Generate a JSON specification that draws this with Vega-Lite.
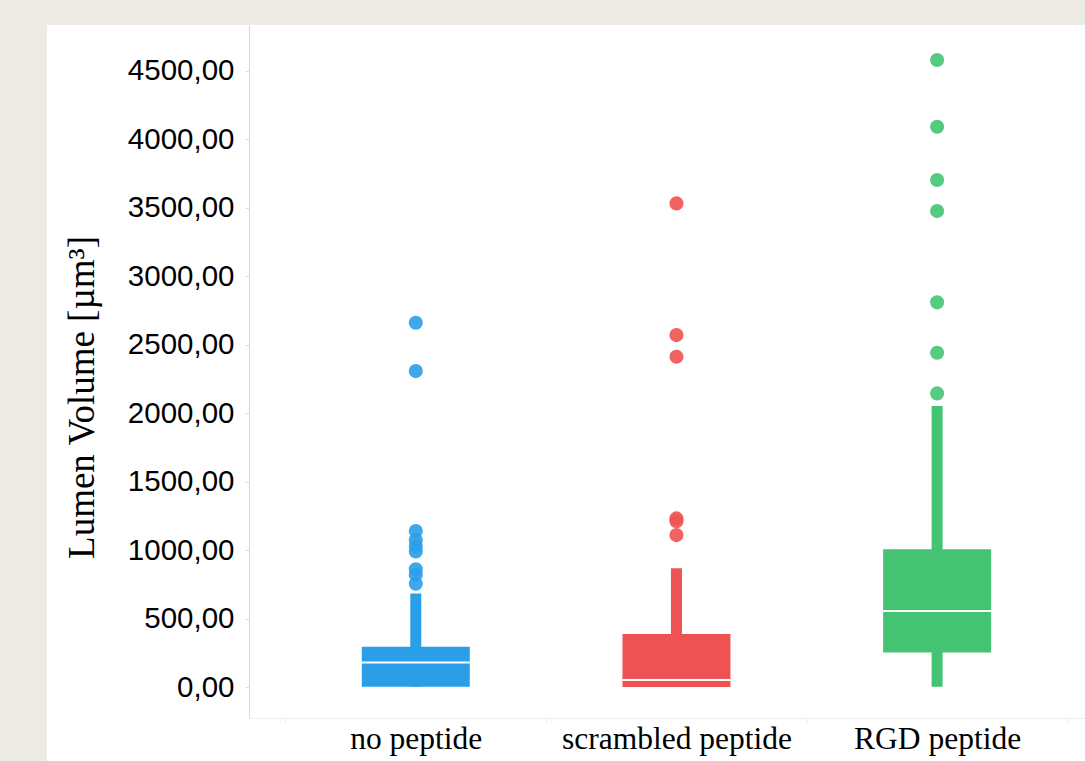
{
  "$schema": "https://vega.github.io/schema/vega-lite/v6.json",
  "width": 836,
  "height": 693,
  "autosize": {"type": "none"},
  "padding": {"left": 249, "top": 25, "right": 0, "bottom": 43},
  "background": "#EEEBE4",
  "config": {
    "view": {"fill": "white", "stroke": "white", "strokeWidth": 404, "strokeDash": [0, 836, 2222, 10]},
    "axis": {"grid": false}
  },
  "datasets": {
    "boxes": [
      {"group": "no peptide", "lower": 2, "q1": 2, "median": 180, "q3": 294, "upper": 684},
      {"group": "scrambled peptide", "lower": 0, "q1": 0, "median": 51, "q3": 387, "upper": 867},
      {"group": "RGD peptide", "lower": 2, "q1": 253, "median": 555, "q3": 1006, "upper": 2053}
    ],
    "outliers": [
      {"group": "no peptide", "value": 2661},
      {"group": "no peptide", "value": 2308},
      {"group": "no peptide", "value": 1140},
      {"group": "no peptide", "value": 1075},
      {"group": "no peptide", "value": 1030},
      {"group": "no peptide", "value": 990},
      {"group": "no peptide", "value": 860},
      {"group": "no peptide", "value": 820},
      {"group": "no peptide", "value": 755},
      {"group": "scrambled peptide", "value": 3533},
      {"group": "scrambled peptide", "value": 2571},
      {"group": "scrambled peptide", "value": 2413},
      {"group": "scrambled peptide", "value": 1232},
      {"group": "scrambled peptide", "value": 1212},
      {"group": "scrambled peptide", "value": 1110},
      {"group": "RGD peptide", "value": 4580},
      {"group": "RGD peptide", "value": 4093},
      {"group": "RGD peptide", "value": 3704},
      {"group": "RGD peptide", "value": 3477},
      {"group": "RGD peptide", "value": 2810},
      {"group": "RGD peptide", "value": 2442},
      {"group": "RGD peptide", "value": 2145}
    ]
  },
  "encoding": {
    "x": {
      "field": "group",
      "type": "nominal",
      "sort": ["no peptide", "scrambled peptide", "RGD peptide"],
      "scale": {"type": "band", "paddingInner": 0, "paddingOuter": 0.1036, "align": 0.675},
      "axis": {
        "title": null,
        "labelAngle": 0,
        "labelFont": "Liberation Serif",
        "labelFontSize": 31.5,
        "labelColor": "#000000",
        "labelBaseline": "alphabetic",
        "labelPadding": 26,
        "labelLimit": 0,
        "tickBand": "extent",
        "tickSize": 4,
        "tickColor": "#ececec",
        "domainColor": "#eeeeee",
        "domainWidth": 1
      }
    },
    "color": {
      "field": "group",
      "type": "nominal",
      "scale": {"domain": ["no peptide", "scrambled peptide", "RGD peptide"], "range": ["#2A9FE8", "#EF5252", "#44C473"]},
      "legend": null
    }
  },
  "layer": [
    {
      "data": {"name": "boxes"},
      "mark": {"type": "rule", "strokeWidth": 11},
      "encoding": {
        "y": {
          "field": "lower",
          "type": "quantitative",
          "scale": {"domain": [-226, 4836], "nice": false, "zero": false},
          "axis": {
            "title": "Lumen Volume [µm³]",
            "titleFont": "Liberation Serif",
            "titleFontSize": 37,
            "titleFontWeight": "normal",
            "titleColor": "#000000",
            "titleAngle": -90,
            "titleAlign": "center",
            "titleBaseline": "alphabetic",
            "titleX": -156,
            "titleY": 372,
            "values": [0, 500, 1000, 1500, 2000, 2500, 3000, 3500, 4000, 4500],
            "labelExpr": "replace(format(datum.value, '.2f'), '.', ',')",
            "labelFont": "Liberation Sans",
            "labelFontSize": 29.5,
            "labelColor": "#000000",
            "labelPadding": 11,
            "tickSize": 4,
            "tickColor": "#dddddd",
            "domainColor": "#d6d6d6"
          }
        },
        "y2": {"field": "upper"}
      }
    },
    {
      "data": {"name": "boxes"},
      "mark": {"type": "bar", "size": 108},
      "encoding": {
        "y": {"field": "q1", "type": "quantitative"},
        "y2": {"field": "q3"}
      }
    },
    {
      "data": {"name": "boxes"},
      "mark": {"type": "tick", "color": "white", "thickness": 2, "size": 108, "opacity": 1},
      "encoding": {
        "y": {"field": "median", "type": "quantitative"},
        "color": {"value": "white"}
      }
    },
    {
      "data": {"name": "outliers"},
      "mark": {"type": "circle", "size": 200, "opacity": 0.9},
      "encoding": {
        "y": {"field": "value", "type": "quantitative"}
      }
    }
  ]
}
